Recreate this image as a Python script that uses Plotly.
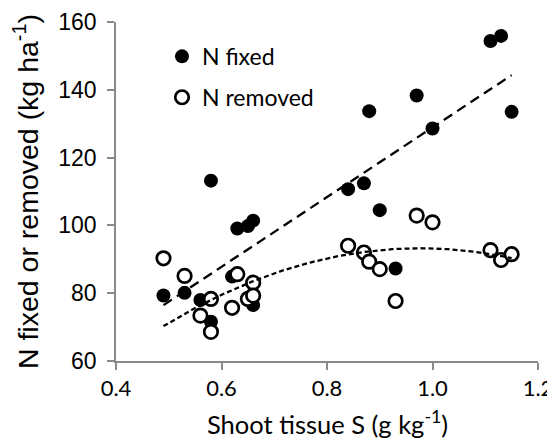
import numpy as np
import plotly.graph_objects as go

# N fixed (filled circles)
fixed_s = [0.49, 0.53, 0.56, 0.58, 0.58, 0.62, 0.63, 0.65, 0.66, 0.66,
           0.84, 0.87, 0.88, 0.90, 0.93, 0.97, 1.00, 1.11, 1.13, 1.15]
fixed_n = [79.3, 80.1, 78.0, 71.6, 113.2, 84.9, 99.1, 99.8, 101.4, 76.5,
           110.7, 112.4, 133.7, 104.5, 87.3, 138.3, 128.6, 154.4, 155.9, 133.5]

# N removed (open circles)
removed_s = [0.49, 0.53, 0.56, 0.58, 0.58, 0.62, 0.63, 0.65, 0.66, 0.66,
             0.84, 0.87, 0.88, 0.90, 0.93, 0.97, 1.00, 1.11, 1.13, 1.15]
removed_n = [90.3, 85.1, 73.4, 78.3, 68.6, 75.7, 85.6, 78.3, 83.1, 79.3,
             94.0, 92.0, 89.3, 87.1, 77.7, 102.9, 100.9, 92.7, 89.8, 91.5]

# trendline coefficients (highest power first)
fixed_trend = [102.8, 26.1]              # linear
removed_trend = [-97.1, 189.6, 0.7]      # quadratic

x_ticks = [0.4, 0.6, 0.8, 1.0, 1.2]
y_ticks = [60, 80, 100, 120, 140, 160]

x_title = "Shoot tissue S (g kg<sup>-1</sup>)"
y_title = "N fixed or removed (kg ha<sup>-1</sup>)"

tx = np.linspace(min(fixed_s), max(fixed_s), 100)
tx2 = np.linspace(min(removed_s), max(removed_s), 100)

axis_col = "#8a8a8a"
fig = go.Figure()
fig.add_trace(go.Scatter(x=fixed_s, y=fixed_n, mode="markers", name="N fixed",
                         legendgroup="a",
                         marker=dict(size=14, color="black", line=dict(width=0))))
fig.add_trace(go.Scatter(x=removed_s, y=removed_n, mode="markers", name="N removed",
                         legendgroup="b",
                         marker=dict(size=13.5, color="white", line=dict(width=2.7, color="black"))))
fig.add_trace(go.Scatter(x=tx, y=np.polyval(fixed_trend, tx), mode="lines", showlegend=False,
                         line=dict(color="black", width=2.3, dash="10px,6px")))
fig.add_trace(go.Scatter(x=tx2, y=np.polyval(removed_trend, tx2), mode="lines", showlegend=False,
                         line=dict(color="black", width=2.3, dash="5px,3px")))

fig.add_annotation(text=x_title, xref="paper", yref="paper", x=0.5, y=-0.233,
                   xanchor="center", yanchor="bottom", showarrow=False, borderpad=0,
                   font=dict(family="Lato", size=25.5, color="black"))

# the page body adds an 8px offset, so the figure is 8px smaller than the window
fig.update_layout(
    width=547, height=433,
    margin=dict(l=108, r=17, t=14, b=80),
    plot_bgcolor="white", paper_bgcolor="white",
    legend=dict(x=0.109, y=0.962, xanchor="left", yanchor="top",
                font=dict(family="Lato", size=23, color="black"),
                bgcolor="rgba(0,0,0,0)", tracegroupgap=8, itemwidth=30),
    xaxis=dict(range=[0.4, 1.2], tickvals=x_ticks, tickformat=".1f", automargin=False,
               showgrid=False, zeroline=False, showline=True, linecolor=axis_col, linewidth=1.5,
               ticks="outside", ticklen=7, tickcolor=axis_col, tickwidth=1.5,
               tickfont=dict(family="Lato", size=22, color="black")),
    yaxis=dict(range=[60, 160], tickvals=y_ticks, automargin=False,
               showgrid=False, zeroline=False, showline=True, linecolor=axis_col, linewidth=1.5,
               ticks="outside", ticklen=7, tickcolor=axis_col, tickwidth=1.5,
               ticklabelstandoff=6,
               tickfont=dict(family="Liberation Sans", size=23, color="black"),
               title=dict(text=y_title, standoff=19,
                          font=dict(family="Liberation Sans", size=28.5, color="black"))),
)
fig.write_html("out.html")
